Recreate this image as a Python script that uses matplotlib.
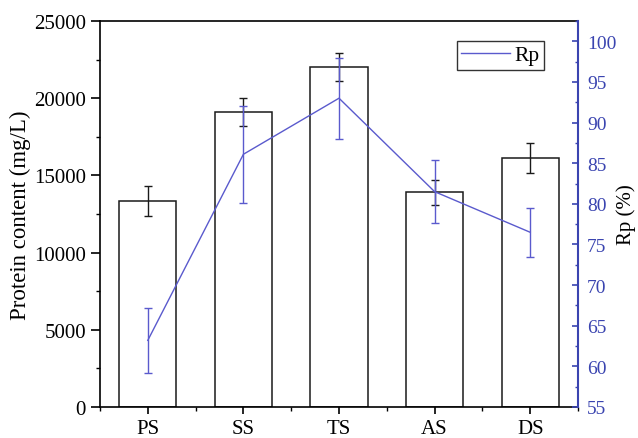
import matplotlib
matplotlib.use('Agg')
import matplotlib.pyplot as plt
from matplotlib.ticker import MultipleLocator
from matplotlib.lines import Line2D

categories = ['PS', 'SS', 'TS', 'AS', 'DS']
protein = [13360, 19120, 22000, 13900, 16130]
protein_err = [980, 900, 900, 800, 1000]
rp = [63.2, 86.1, 93.0, 81.5, 76.5]
rp_err = [4.0, 6.0, 5.0, 3.9, 3.0]

plt.rcParams['font.family'] = ['Liberation Serif', 'DejaVu Serif']
blue_axis = '#3a44b0'
blue_line = '#5a5acd'

fig = plt.figure(figsize=(6.38, 4.39), dpi=100)
ax = fig.add_axes([100 / 638, 1 - 408 / 439, 478 / 638, 386 / 439])
x = list(range(len(categories)))

ax.bar(x, protein, width=0.6, color='white', edgecolor='#1a1a1a', linewidth=1.1,
       yerr=protein_err, error_kw=dict(ecolor='#1a1a1a', elinewidth=1.0,
                                       capsize=3, capthick=1.0), zorder=2)
ax.set_xlim(-0.5, 4.5)
ax.set_ylim(0, 25000)
ax.set_xticks(x)
ax.set_xticklabels(categories)
ax.xaxis.set_minor_locator(MultipleLocator(0.5))
ax.yaxis.set_major_locator(MultipleLocator(5000))
ax.yaxis.set_minor_locator(MultipleLocator(2500))
ax.set_ylabel('Protein content (mg/L)', fontsize=16.5, labelpad=2)
ax.tick_params(axis='y', which='major', labelsize=15, direction='out',
               length=6.5, width=1.2, pad=3.5)
ax.tick_params(axis='x', which='major', labelsize=15, direction='out',
               length=5, width=1.2, pad=4)
ax.tick_params(axis='both', which='minor', direction='out', length=3, width=1.0)
ax.tick_params(axis='y', right=False)
for s in ax.spines.values():
    s.set_linewidth(1.2)

ax2 = ax.twinx()
ax2.errorbar(x, rp, yerr=rp_err, color=blue_line, linewidth=1.0,
             elinewidth=1.0, capsize=3, capthick=1.0, label='Rp')
ax2.set_ylim(55, 102.5)
ax2.yaxis.set_major_locator(MultipleLocator(5))
ax2.yaxis.set_minor_locator(MultipleLocator(2.5))
ax2.set_ylabel('Rp (%)', fontsize=15, labelpad=0)
ax2.tick_params(axis='y', which='major', labelsize=14, direction='in',
                length=4.5, width=1.2, pad=6.5, colors=blue_axis,
                labelcolor=blue_axis)
ax2.tick_params(axis='y', which='minor', direction='in', length=2.5, width=1.0,
                colors=blue_axis)
ax2.spines['right'].set_color(blue_axis)
ax2.spines['right'].set_linewidth(1.5)
for name in ['left', 'top', 'bottom']:
    ax2.spines[name].set_visible(False)

handle = Line2D([], [], color=blue_line, linewidth=1.0)
leg = ax2.legend([handle], ['Rp'], loc='upper right', bbox_to_anchor=(0.929, 0.948),
                 fontsize=15.5, frameon=True, fancybox=False, edgecolor='black',
                 handlelength=2.3, borderpad=0.2, handletextpad=0.2,
                 borderaxespad=0)
leg.get_frame().set_linewidth(1.0)

fig.savefig('out.png', dpi=100)
